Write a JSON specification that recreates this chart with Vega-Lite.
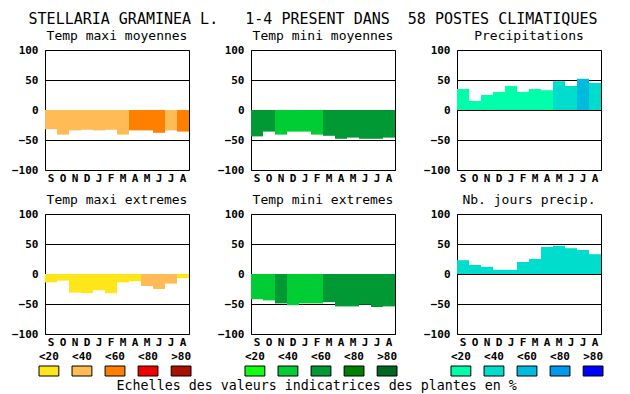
{
  "$schema": "https://vega.github.io/schema/vega-lite/v6.json",
  "padding": {"left": 11, "top": 11, "right": 5, "bottom": 4},
  "background": "white",
  "title": {"text": "STELLARIA GRAMINEA L.\u00a0\u00a0\u00a01-4 PRESENT DANS\u00a0\u00a058 POSTES CLIMATIQUES", "fontSize": 15, "font": "DejaVu Sans Mono", "fontWeight": "normal", "anchor": "middle", "offset": 3, "dx": 3, "color": "black"},
  "datasets": {
    "bars": [
      {"p": "tmax", "m": "Sep", "v": -32, "c": "T40"},
      {"p": "tmax", "m": "Oct", "v": -41, "c": "T40"},
      {"p": "tmax", "m": "Nov", "v": -34, "c": "T40"},
      {"p": "tmax", "m": "Dec", "v": -33, "c": "T40"},
      {"p": "tmax", "m": "Jan", "v": -34, "c": "T40"},
      {"p": "tmax", "m": "Feb", "v": -33, "c": "T40"},
      {"p": "tmax", "m": "Mar", "v": -41, "c": "T40"},
      {"p": "tmax", "m": "Apr", "v": -34, "c": "T60"},
      {"p": "tmax", "m": "May", "v": -34, "c": "T60"},
      {"p": "tmax", "m": "Jun", "v": -38, "c": "T60"},
      {"p": "tmax", "m": "Jul", "v": -34, "c": "T40"},
      {"p": "tmax", "m": "Aug", "v": -36, "c": "T60"},
      {"p": "tmin", "m": "Sep", "v": -44, "c": "M60"},
      {"p": "tmin", "m": "Oct", "v": -36, "c": "M60"},
      {"p": "tmin", "m": "Nov", "v": -41, "c": "M40"},
      {"p": "tmin", "m": "Dec", "v": -36, "c": "M40"},
      {"p": "tmin", "m": "Jan", "v": -36, "c": "M40"},
      {"p": "tmin", "m": "Feb", "v": -41, "c": "M40"},
      {"p": "tmin", "m": "Mar", "v": -43, "c": "M60"},
      {"p": "tmin", "m": "Apr", "v": -48, "c": "M60"},
      {"p": "tmin", "m": "May", "v": -46, "c": "M60"},
      {"p": "tmin", "m": "Jun", "v": -48, "c": "M60"},
      {"p": "tmin", "m": "Jul", "v": -48, "c": "M60"},
      {"p": "tmin", "m": "Aug", "v": -46, "c": "M60"},
      {"p": "prec", "m": "Sep", "v": 35, "c": "P20"},
      {"p": "prec", "m": "Oct", "v": 15, "c": "P20"},
      {"p": "prec", "m": "Nov", "v": 25, "c": "P20"},
      {"p": "prec", "m": "Dec", "v": 30, "c": "P20"},
      {"p": "prec", "m": "Jan", "v": 40, "c": "P20"},
      {"p": "prec", "m": "Feb", "v": 30, "c": "P20"},
      {"p": "prec", "m": "Mar", "v": 35, "c": "P20"},
      {"p": "prec", "m": "Apr", "v": 33, "c": "P20"},
      {"p": "prec", "m": "May", "v": 48, "c": "P40"},
      {"p": "prec", "m": "Jun", "v": 40, "c": "P40"},
      {"p": "prec", "m": "Jul", "v": 52, "c": "P60"},
      {"p": "prec", "m": "Aug", "v": 45, "c": "P40"},
      {"p": "txe", "m": "Sep", "v": -14, "c": "T20"},
      {"p": "txe", "m": "Oct", "v": -11, "c": "T20"},
      {"p": "txe", "m": "Nov", "v": -31, "c": "T20"},
      {"p": "txe", "m": "Dec", "v": -32, "c": "T20"},
      {"p": "txe", "m": "Jan", "v": -27, "c": "T20"},
      {"p": "txe", "m": "Feb", "v": -32, "c": "T20"},
      {"p": "txe", "m": "Mar", "v": -14, "c": "T20"},
      {"p": "txe", "m": "Apr", "v": -12, "c": "T20"},
      {"p": "txe", "m": "May", "v": -20, "c": "T40"},
      {"p": "txe", "m": "Jun", "v": -25, "c": "T40"},
      {"p": "txe", "m": "Jul", "v": -16, "c": "T40"},
      {"p": "txe", "m": "Aug", "v": -7, "c": "T20"},
      {"p": "tne", "m": "Sep", "v": -42, "c": "M40"},
      {"p": "tne", "m": "Oct", "v": -44, "c": "M40"},
      {"p": "tne", "m": "Nov", "v": -49, "c": "M60"},
      {"p": "tne", "m": "Dec", "v": -52, "c": "M40"},
      {"p": "tne", "m": "Jan", "v": -49, "c": "M40"},
      {"p": "tne", "m": "Feb", "v": -49, "c": "M40"},
      {"p": "tne", "m": "Mar", "v": -47, "c": "M60"},
      {"p": "tne", "m": "Apr", "v": -54, "c": "M60"},
      {"p": "tne", "m": "May", "v": -54, "c": "M60"},
      {"p": "tne", "m": "Jun", "v": -51, "c": "M60"},
      {"p": "tne", "m": "Jul", "v": -55, "c": "M60"},
      {"p": "tne", "m": "Aug", "v": -54, "c": "M60"},
      {"p": "njp", "m": "Sep", "v": 23, "c": "P40"},
      {"p": "njp", "m": "Oct", "v": 15, "c": "P40"},
      {"p": "njp", "m": "Nov", "v": 12, "c": "P40"},
      {"p": "njp", "m": "Dec", "v": 7, "c": "P40"},
      {"p": "njp", "m": "Jan", "v": 7, "c": "P40"},
      {"p": "njp", "m": "Feb", "v": 20, "c": "P40"},
      {"p": "njp", "m": "Mar", "v": 25, "c": "P40"},
      {"p": "njp", "m": "Apr", "v": 45, "c": "P40"},
      {"p": "njp", "m": "May", "v": 47, "c": "P40"},
      {"p": "njp", "m": "Jun", "v": 43, "c": "P40"},
      {"p": "njp", "m": "Jul", "v": 40, "c": "P40"},
      {"p": "njp", "m": "Aug", "v": 33, "c": "P40"}
    ],
    "legend": [
      {"g": "T", "k": "<20", "c": "T20"}, {"g": "T", "k": "<40", "c": "T40"}, {"g": "T", "k": "<60", "c": "T60"}, {"g": "T", "k": "<80", "c": "T80"}, {"g": "T", "k": ">80", "c": "T99"},
      {"g": "M", "k": "<20", "c": "M20"}, {"g": "M", "k": "<40", "c": "M40"}, {"g": "M", "k": "<60", "c": "M60"}, {"g": "M", "k": "<80", "c": "M80"}, {"g": "M", "k": ">80", "c": "M99"},
      {"g": "P", "k": "<20", "c": "P20"}, {"g": "P", "k": "<40", "c": "P40"}, {"g": "P", "k": "<60", "c": "P60"}, {"g": "P", "k": "<80", "c": "P80"}, {"g": "P", "k": ">80", "c": "P99"}
    ]
  },
  "spacing": 2,
  "vconcat": [
    {
      "bounds": "flush",
      "spacing": 62,
      "hconcat": [
        {"title": {"text": "Temp maxi moyennes"}, "width": 144, "height": 120, "data": {"name": "bars"}, "transform": [{"filter": "datum.p == 'tmax'"}], "mark": {"type": "bar"},
         "encoding": {"x": {"field": "m", "type": "ordinal", "sort": ["Sep","Oct","Nov","Dec","Jan","Feb","Mar","Apr","May","Jun","Jul","Aug"], "scale": {"paddingInner": 0, "paddingOuter": 0}, "axis": {"labelExpr": "substring(datum.label, 0, 1)", "title": null}},
          "y": {"field": "v", "type": "quantitative", "scale": {"domain": [-100, 100], "nice": false}, "axis": {"values": [-100, -50, 0, 50, 100], "title": null}},
          "y2": {"datum": 0},
          "color": {"field": "c", "type": "nominal", "legend": null, "scale": {"domain": ["T20","T40","T60","T80","T99","M20","M40","M60","M80","M99","P20","P40","P60","P80","P99"], "range": ["#ffe619","#ffbb55","#ff8000","#ee0000","#aa1100","#11ff11","#00cc33","#009933","#008000","#006622","#00ffaa","#00ddcc","#00bbdd","#0099ee","#0000ff"]}}}},
        {"title": {"text": "Temp mini moyennes"}, "width": 144, "height": 120, "data": {"name": "bars"}, "transform": [{"filter": "datum.p == 'tmin'"}], "mark": {"type": "bar"},
         "encoding": {"x": {"field": "m", "type": "ordinal", "sort": ["Sep","Oct","Nov","Dec","Jan","Feb","Mar","Apr","May","Jun","Jul","Aug"], "scale": {"paddingInner": 0, "paddingOuter": 0}, "axis": {"labelExpr": "substring(datum.label, 0, 1)", "title": null}},
          "y": {"field": "v", "type": "quantitative", "scale": {"domain": [-100, 100], "nice": false}, "axis": {"values": [-100, -50, 0, 50, 100], "title": null}},
          "y2": {"datum": 0},
          "color": {"field": "c", "type": "nominal", "legend": null, "scale": {"domain": ["T20","T40","T60","T80","T99","M20","M40","M60","M80","M99","P20","P40","P60","P80","P99"], "range": ["#ffe619","#ffbb55","#ff8000","#ee0000","#aa1100","#11ff11","#00cc33","#009933","#008000","#006622","#00ffaa","#00ddcc","#00bbdd","#0099ee","#0000ff"]}}}},
        {"title": {"text": "Precipitations"}, "width": 144, "height": 120, "data": {"name": "bars"}, "transform": [{"filter": "datum.p == 'prec'"}], "mark": {"type": "bar"},
         "encoding": {"x": {"field": "m", "type": "ordinal", "sort": ["Sep","Oct","Nov","Dec","Jan","Feb","Mar","Apr","May","Jun","Jul","Aug"], "scale": {"paddingInner": 0, "paddingOuter": 0}, "axis": {"labelExpr": "substring(datum.label, 0, 1)", "title": null}},
          "y": {"field": "v", "type": "quantitative", "scale": {"domain": [-100, 100], "nice": false}, "axis": {"values": [-100, -50, 0, 50, 100], "title": null}},
          "y2": {"datum": 0},
          "color": {"field": "c", "type": "nominal", "legend": null, "scale": {"domain": ["T20","T40","T60","T80","T99","M20","M40","M60","M80","M99","P20","P40","P60","P80","P99"], "range": ["#ffe619","#ffbb55","#ff8000","#ee0000","#aa1100","#11ff11","#00cc33","#009933","#008000","#006622","#00ffaa","#00ddcc","#00bbdd","#0099ee","#0000ff"]}}}}
      ]
    },
    {
      "bounds": "flush",
      "spacing": 62,
      "hconcat": [
        {"title": {"text": [" ", "Temp maxi extremes"], "lineHeight": 7}, "width": 144, "height": 120, "data": {"name": "bars"}, "transform": [{"filter": "datum.p == 'txe'"}], "mark": {"type": "bar"},
         "encoding": {"x": {"field": "m", "type": "ordinal", "sort": ["Sep","Oct","Nov","Dec","Jan","Feb","Mar","Apr","May","Jun","Jul","Aug"], "scale": {"paddingInner": 0, "paddingOuter": 0}, "axis": {"labelExpr": "substring(datum.label, 0, 1)", "title": null}},
          "y": {"field": "v", "type": "quantitative", "scale": {"domain": [-100, 100], "nice": false}, "axis": {"values": [-100, -50, 0, 50, 100], "title": null}},
          "y2": {"datum": 0},
          "color": {"field": "c", "type": "nominal", "legend": null, "scale": {"domain": ["T20","T40","T60","T80","T99","M20","M40","M60","M80","M99","P20","P40","P60","P80","P99"], "range": ["#ffe619","#ffbb55","#ff8000","#ee0000","#aa1100","#11ff11","#00cc33","#009933","#008000","#006622","#00ffaa","#00ddcc","#00bbdd","#0099ee","#0000ff"]}}}},
        {"title": {"text": [" ", "Temp mini extremes"], "lineHeight": 7}, "width": 144, "height": 120, "data": {"name": "bars"}, "transform": [{"filter": "datum.p == 'tne'"}], "mark": {"type": "bar"},
         "encoding": {"x": {"field": "m", "type": "ordinal", "sort": ["Sep","Oct","Nov","Dec","Jan","Feb","Mar","Apr","May","Jun","Jul","Aug"], "scale": {"paddingInner": 0, "paddingOuter": 0}, "axis": {"labelExpr": "substring(datum.label, 0, 1)", "title": null}},
          "y": {"field": "v", "type": "quantitative", "scale": {"domain": [-100, 100], "nice": false}, "axis": {"values": [-100, -50, 0, 50, 100], "title": null}},
          "y2": {"datum": 0},
          "color": {"field": "c", "type": "nominal", "legend": null, "scale": {"domain": ["T20","T40","T60","T80","T99","M20","M40","M60","M80","M99","P20","P40","P60","P80","P99"], "range": ["#ffe619","#ffbb55","#ff8000","#ee0000","#aa1100","#11ff11","#00cc33","#009933","#008000","#006622","#00ffaa","#00ddcc","#00bbdd","#0099ee","#0000ff"]}}}},
        {"title": {"text": [" ", "Nb. jours precip."], "lineHeight": 7}, "width": 144, "height": 120, "data": {"name": "bars"}, "transform": [{"filter": "datum.p == 'njp'"}], "mark": {"type": "bar"},
         "encoding": {"x": {"field": "m", "type": "ordinal", "sort": ["Sep","Oct","Nov","Dec","Jan","Feb","Mar","Apr","May","Jun","Jul","Aug"], "scale": {"paddingInner": 0, "paddingOuter": 0}, "axis": {"labelExpr": "substring(datum.label, 0, 1)", "title": null}},
          "y": {"field": "v", "type": "quantitative", "scale": {"domain": [-100, 100], "nice": false}, "axis": {"values": [-100, -50, 0, 50, 100], "title": null}},
          "y2": {"datum": 0},
          "color": {"field": "c", "type": "nominal", "legend": null, "scale": {"domain": ["T20","T40","T60","T80","T99","M20","M40","M60","M80","M99","P20","P40","P60","P80","P99"], "range": ["#ffe619","#ffbb55","#ff8000","#ee0000","#aa1100","#11ff11","#00cc33","#009933","#008000","#006622","#00ffaa","#00ddcc","#00bbdd","#0099ee","#0000ff"]}}}}
      ]
    },
    {
      "bounds": "flush",
      "spacing": 66,
      "title": {"text": "Echelles des valeurs indicatrices des plantes en %", "orient": "bottom", "offset": 2, "dx": -7, "fontSize": 13.3, "baseline": "top"},
      "hconcat": [
        {"width": 140, "height": 10, "view": {"stroke": null}, "data": {"name": "legend"}, "transform": [{"filter": "datum.g == 'T'"}], "mark": {"type": "bar", "stroke": "black", "strokeWidth": 1},
         "encoding": {"x": {"field": "k", "type": "ordinal", "sort": ["<20","<40","<60","<80",">80"], "scale": {"range": [-6, 146], "paddingInner": 0.4, "paddingOuter": 0}, "axis": {"orient": "top", "title": null, "labelPadding": 5, "grid": false}},
          "color": {"field": "c", "type": "nominal", "legend": null, "scale": {"domain": ["T20","T40","T60","T80","T99","M20","M40","M60","M80","M99","P20","P40","P60","P80","P99"], "range": ["#ffe619","#ffbb55","#ff8000","#ee0000","#aa1100","#11ff11","#00cc33","#009933","#008000","#006622","#00ffaa","#00ddcc","#00bbdd","#0099ee","#0000ff"]}}}},
        {"width": 140, "height": 10, "view": {"stroke": null}, "data": {"name": "legend"}, "transform": [{"filter": "datum.g == 'M'"}], "mark": {"type": "bar", "stroke": "black", "strokeWidth": 1},
         "encoding": {"x": {"field": "k", "type": "ordinal", "sort": ["<20","<40","<60","<80",">80"], "scale": {"range": [-6, 146], "paddingInner": 0.4, "paddingOuter": 0}, "axis": {"orient": "top", "title": null, "labelPadding": 5, "grid": false}},
          "color": {"field": "c", "type": "nominal", "legend": null, "scale": {"domain": ["T20","T40","T60","T80","T99","M20","M40","M60","M80","M99","P20","P40","P60","P80","P99"], "range": ["#ffe619","#ffbb55","#ff8000","#ee0000","#aa1100","#11ff11","#00cc33","#009933","#008000","#006622","#00ffaa","#00ddcc","#00bbdd","#0099ee","#0000ff"]}}}},
        {"width": 140, "height": 10, "view": {"stroke": null}, "data": {"name": "legend"}, "transform": [{"filter": "datum.g == 'P'"}], "mark": {"type": "bar", "stroke": "black", "strokeWidth": 1},
         "encoding": {"x": {"field": "k", "type": "ordinal", "sort": ["<20","<40","<60","<80",">80"], "scale": {"range": [-6, 146], "paddingInner": 0.4, "paddingOuter": 0}, "axis": {"orient": "top", "title": null, "labelPadding": 5, "grid": false}},
          "color": {"field": "c", "type": "nominal", "legend": null, "scale": {"domain": ["T20","T40","T60","T80","T99","M20","M40","M60","M80","M99","P20","P40","P60","P80","P99"], "range": ["#ffe619","#ffbb55","#ff8000","#ee0000","#aa1100","#11ff11","#00cc33","#009933","#008000","#006622","#00ffaa","#00ddcc","#00bbdd","#0099ee","#0000ff"]}}}}
      ]
    }
  ],
  "config": {
    "font": "DejaVu Sans Mono",
    "view": {"stroke": "black", "strokeWidth": 1},
    "title": {"font": "DejaVu Sans Mono", "fontSize": 13, "fontWeight": "normal", "color": "black", "offset": 1, "anchor": "middle"},
    "axis": {"domain": false, "ticks": false, "tickSize": 0, "labelFont": "DejaVu Sans Mono", "labelFontSize": 11, "labelFontWeight": "bold", "labelColor": "black", "gridColor": "black", "gridOpacity": 1, "gridWidth": 1, "zindex": 1},
    "axisX": {"grid": false, "labelAngle": 0, "labelPadding": 2},
    "axisY": {"grid": true, "labelPadding": 7}
  }
}
